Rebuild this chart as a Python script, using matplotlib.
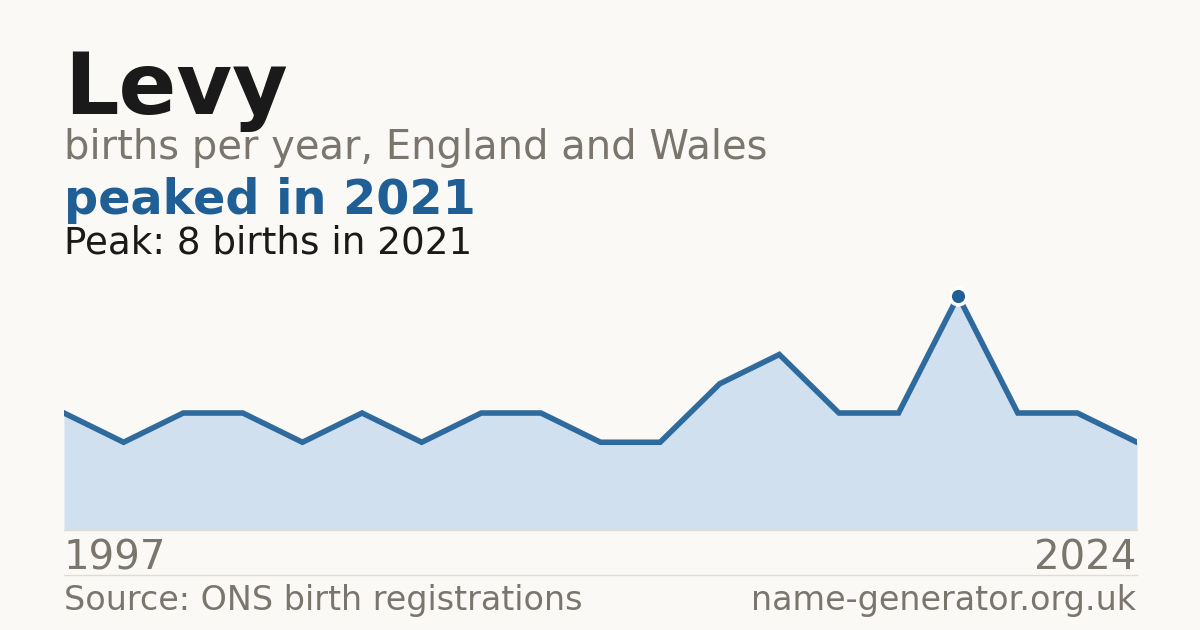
import matplotlib
matplotlib.use("Agg")
import matplotlib.pyplot as plt
import numpy as np

plt.rcParams['font.family'] = ['DejaVu Sans']

# Data (equally spaced points; only years with registrations shown)
years = [1997, 1998, 1999, 2000, 2001, 2002, 2003, 2004, 2005, 2006,
         2008, 2012, 2016, 2018, 2020, 2021, 2022, 2023, 2024]
births = [4, 3, 4, 4, 3, 4, 3, 4, 4, 3, 3, 5, 6, 4, 4, 8, 4, 4, 3]
peak_year = 2021
peak_value = 8

BG = "#faf9f5"
BLUE = "#1f5f96"
FILL = "#d0e0ef"
GRAY = "#7a756d"
DARK = "#1a1a1a"

W, H = 1200, 630
fig = plt.figure(figsize=(12, 6.3), dpi=100, facecolor=BG)

def fy(px):
    return 1 - px / H

def fx(px):
    return px / W

ax = fig.add_axes([fx(64), fy(530), fx(1137) - fx(64), (530 - 296) / H])
ax.set_facecolor(BG)
ax.patch.set_alpha(0)
idx = np.arange(len(births))
ax.fill_between(idx, births, 0, color=FILL, linewidth=0)
ax.plot(idx, births, color=BLUE, linewidth=4, solid_joinstyle="miter", alpha=0.92)
pi = years.index(peak_year)
ax.plot([idx[pi]], [births[pi]], "o", markersize=12, markerfacecolor=BLUE,
        markeredgecolor="white", markeredgewidth=2.5, clip_on=False, zorder=5)
ax.set_xlim(0, len(births) - 1)
ax.set_ylim(0, peak_value)
ax.axis("off")

# baseline & separator
fig.add_artist(plt.Line2D([fx(64), fx(1137)], [fy(530), fy(530)], color="#e0dcd5", linewidth=1))
fig.add_artist(plt.Line2D([fx(64), fx(1137)], [fy(574.5), fy(574.5)], color="#e0dcd5", linewidth=1))

fig.text(fx(64), fy(114), "Levy", fontsize=61.6, fontweight="bold", color=DARK, va="baseline", ha="left")
fig.text(fx(64), fy(159), "births per year, England and Wales", fontsize=28.8, color=GRAY, va="baseline", ha="left")
fig.text(fx(64), fy(214), f"peaked in {peak_year}", fontsize=34.4, fontweight="bold", color=BLUE, va="baseline", ha="left")
fig.text(fx(64), fy(253), f"Peak: {peak_value} births in {peak_year}", fontsize=26.8, color=DARK, va="baseline", ha="left")

fig.text(fx(64), fy(570), str(years[0]), fontsize=29, color=GRAY, va="baseline", ha="left")
fig.text(fx(1136), fy(570), str(years[-1]), fontsize=29, color=GRAY, va="baseline", ha="right")
fig.text(fx(64), fy(610), "Source: ONS birth registrations", fontsize=24, color=GRAY, va="baseline", ha="left")
fig.text(fx(1136), fy(610), "name-generator.org.uk", fontsize=24, color=GRAY, va="baseline", ha="right")

fig.savefig("out.png", dpi=100, facecolor=BG)
